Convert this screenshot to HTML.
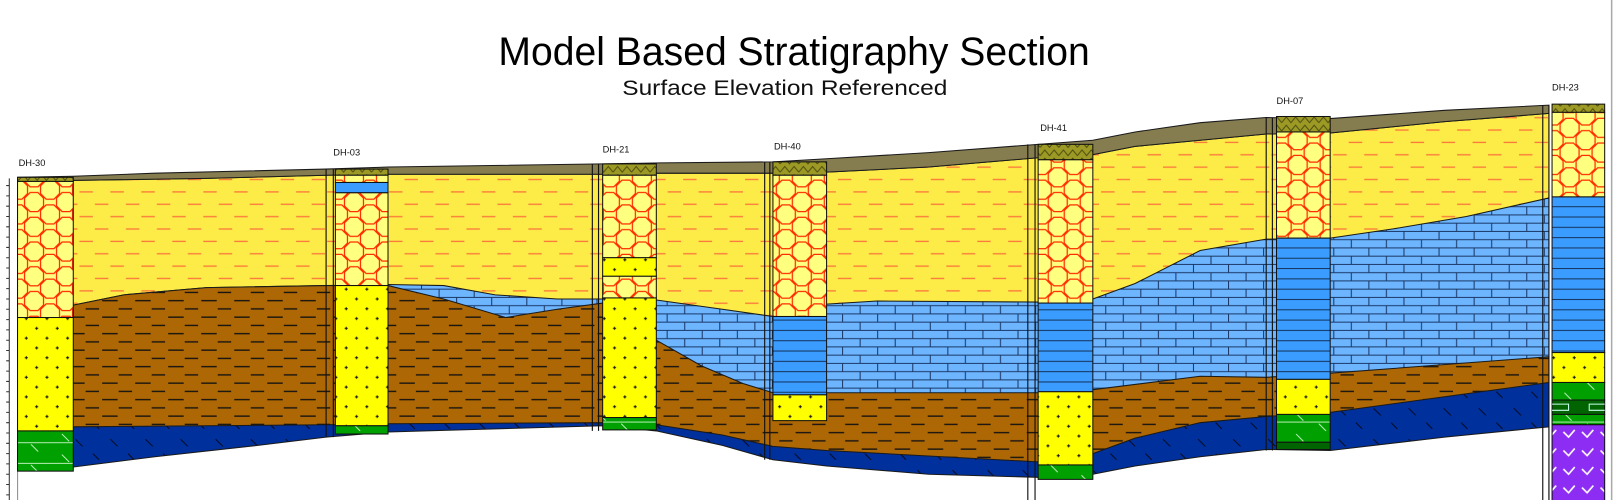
<!DOCTYPE html>
<html><head><meta charset="utf-8"><style>
html,body{margin:0;padding:0;background:#fff;overflow:hidden}
svg{display:block}
</style></head><body>
<svg width="1615" height="500" viewBox="0 0 1565 485" preserveAspectRatio="none" xmlns="http://www.w3.org/2000/svg">
<defs>
<polygon id="og" points="3.8,-9.2 9.2,-3.8 9.2,3.8 3.8,9.2 -3.8,9.2 -9.2,3.8 -9.2,-3.8 -3.8,-9.2"/>
<pattern id="clay" patternUnits="userSpaceOnUse" width="30" height="24">
<rect width="30" height="24" fill="#fdeb47"/>
<rect x="2" y="5.5" width="13" height="1.3" fill="#fb7a3c"/>
<rect x="17" y="17.5" width="13" height="1.3" fill="#fb7a3c"/>
</pattern>
<pattern id="oct" patternUnits="userSpaceOnUse" width="31" height="24" x="2" y="4">
<rect width="31" height="24" fill="#ffff80"/>
<g fill="none" stroke="#ff2a00" stroke-width="1.2">
<use href="#og" x="0" y="0"/><use href="#og" x="31" y="0"/>
<use href="#og" x="0" y="24"/><use href="#og" x="31" y="24"/>
<use href="#og" x="15.5" y="12"/>
</g>
</pattern>
<pattern id="dots" patternUnits="userSpaceOnUse" width="20" height="19">
<rect width="20" height="19" fill="#ffff00"/>
<g fill="#111"><rect x="4" y="4.5" width="3" height="1"/><rect x="5" y="3.5" width="1" height="3"/>
<rect x="14" y="14" width="3" height="1"/><rect x="15" y="13" width="1" height="3"/></g>
</pattern>
<pattern id="brown" patternUnits="userSpaceOnUse" width="32" height="16">
<rect width="32" height="16" fill="#ad6704"/>
<rect x="3" y="3" width="15" height="1.3" fill="#111"/>
<rect x="19" y="11" width="13" height="1.3" fill="#111"/>
</pattern>
<pattern id="dblue" patternUnits="userSpaceOnUse" width="34" height="30">
<rect width="34" height="30" fill="#00309c"/>
<path d="M5 6 L12 13 M22 20 L28 26" stroke="#0a0a20" stroke-width="1"/>
</pattern>
<pattern id="brick" patternUnits="userSpaceOnUse" width="34" height="16">
<rect width="34" height="16" fill="#6db6ff"/>
<path d="M0 0.5 H34 M0 8.5 H34 M0.5 0 V8 M17.5 8 V16" stroke="#1a3766" stroke-width="1" fill="none"/>
</pattern>
<pattern id="blay" patternUnits="userSpaceOnUse" width="20" height="10">
<rect width="20" height="10" fill="#3a9cff"/>
<rect y="0" width="20" height="1" fill="#15355f"/>
</pattern>
<pattern id="green" patternUnits="userSpaceOnUse" width="52" height="20">
<rect width="52" height="20" fill="#00a000"/>
<rect y="9" width="52" height="0.8" fill="#e0ffe0"/>
<path d="M8 1 L15 8 M30 11 L37 18" stroke="#e0ffe0" stroke-width="0.8"/>
</pattern>
<pattern id="purple" patternUnits="userSpaceOnUse" width="18" height="18">
<rect width="18" height="18" fill="#8d2cf2"/>
<path d="M3 5 L8 10 L14 3" stroke="#fff" stroke-width="1.6" fill="none"/>
</pattern>
<pattern id="olive" patternUnits="userSpaceOnUse" width="18" height="8">
<rect width="18" height="8" fill="#9c9a24"/>
<path d="M0 7 L4.5 1.5 L9 7 L13.5 1.5 L18 7" stroke="#4e4c10" stroke-width="1" fill="none"/>
</pattern>
</defs>

<text x="483" y="63" font-family="Liberation Sans, Arial, sans-serif" font-size="39" textLength="573" lengthAdjust="spacingAndGlyphs" fill="#000">Model Based Stratigraphy Section</text>
<text x="603" y="92" font-family="Liberation Sans, Arial, sans-serif" font-size="21" textLength="315" lengthAdjust="spacingAndGlyphs" fill="#111">Surface Elevation Referenced</text>

<g stroke="#1a1a1a" stroke-width="1">
<polygon fill="url(#clay)" points="17,176 71,175 200,173 316,170 376,169 584,169 640,168 749,168 801,167 900,162 1006,153 1059,150 1100,142 1163,136 1227,130 1289,129 1400,118 1501,110 1501,485 17,485"/>
<polygon fill="url(#brick)" points="17,296 71,296 120,286 200,279 316,277 376,276 430,277 480,286 540,290 584,290 636,291 700,300 749,307 801,295 850,292 1006,293 1059,290 1100,275 1163,243 1227,232 1289,231 1350,222 1421,210 1501,192 1501,485 17,485"/>
<polygon fill="url(#brown)" points="17,296 71,296 120,286 200,279 316,277 376,277 430,290 490,308 540,300 584,294 636,330 680,355 720,372 749,381 801,381 1006,381 1059,378 1163,365 1227,366 1289,362 1501,346 1501,485 17,485"/>
<polygon fill="url(#dblue)" points="17,414 71,414 200,413 316,412 376,411 584,410 636,412 700,422 749,433 801,437 1006,448 1059,440 1100,425 1163,410 1227,404 1289,400 1501,371 1501,485 17,485"/>
<polygon fill="#fff" stroke="#1a1a1a" points="17,453 71,453 150,443 250,432 316,424 376,419 584,413 636,418 700,432 749,446 801,452 900,460 1006,463 1059,460 1100,452 1163,443 1227,436 1289,437 1400,424 1501,414 1501,486 17,486"/>
<polygon fill="#857c50" points="17,172 71,171 150,168 316,164 376,162 584,159 640,158 749,157 801,154 900,148 1006,140 1059,136 1100,128 1163,119 1227,114 1289,115 1400,107 1501,102 1501,110 1400,118 1289,129 1227,130 1163,136 1100,142 1059,150 1006,153 900,162 801,167 749,168 640,168 584,169 376,169 316,170 200,173 71,175 17,176"/>
</g>
<rect x="0" y="447" width="17" height="40" fill="#fff"/>

<g stroke="#111" stroke-width="1.1" fill="none">
<path d="M316 164 V424 M323 164 V424"/>
<path d="M574 159 V418 M580 159 V418"/>
<path d="M741 157 V446 M746 157 V446"/>
<path d="M996 140 V485 M1003 140 V485"/>
<path d="M1227 114 V437 M1233 114 V437"/>
<path d="M1495 102 V485 M1501 102 V485"/>
</g>

<g stroke="#333" stroke-width="1">
<path d="M9 173 V485"/>
<path d="M6 180 H9 M6 190 H9 M6 200 H9 M6 210 H9 M6 220 H9 M6 230 H9 M6 240 H9 M6 250 H9 M6 260 H9 M6 270 H9 M6 280 H9 M6 290 H9 M6 300 H9 M6 310 H9 M6 320 H9 M6 330 H9 M6 340 H9 M6 350 H9 M6 360 H9 M6 370 H9 M6 380 H9 M6 390 H9 M6 400 H9 M6 410 H9 M6 420 H9 M6 430 H9 M6 440 H9 M6 450 H9 M6 460 H9 M6 470 H9 M6 480 H9"/>
</g>

<g stroke="#111" stroke-width="1">
<rect x="17" y="172" width="54" height="4" fill="url(#olive)"/>
<rect x="17" y="176" width="54" height="132" fill="url(#oct)"/>
<rect x="17" y="308" width="54" height="110" fill="url(#dots)"/>
<rect x="17" y="418" width="54" height="39" fill="url(#green)"/>

<rect x="325" y="164" width="51" height="6" fill="url(#olive)"/>
<rect x="325" y="170" width="51" height="7" fill="url(#oct)"/>
<rect x="325" y="177" width="51" height="10" fill="#3a9cff"/>
<rect x="325" y="187" width="51" height="90" fill="url(#oct)"/>
<rect x="325" y="277" width="51" height="136" fill="url(#dots)"/>
<rect x="325" y="413" width="51" height="8" fill="url(#green)"/>

<rect x="584" y="159" width="52" height="11" fill="url(#olive)"/>
<rect x="584" y="170" width="52" height="80" fill="url(#oct)"/>
<rect x="584" y="250" width="52" height="18" fill="url(#dots)"/>
<rect x="584" y="268" width="52" height="21" fill="url(#oct)"/>
<rect x="584" y="289" width="52" height="116" fill="url(#dots)"/>
<rect x="584" y="405" width="52" height="12" fill="url(#green)"/>

<rect x="749" y="157" width="52" height="13" fill="url(#olive)"/>
<rect x="749" y="170" width="52" height="137" fill="url(#oct)"/>
<rect x="749" y="307" width="52" height="76" fill="url(#blay)"/>
<rect x="749" y="383" width="52" height="25" fill="url(#dots)"/>

<rect x="1006" y="140" width="53" height="15" fill="url(#olive)"/>
<rect x="1006" y="155" width="53" height="139" fill="url(#oct)"/>
<rect x="1006" y="294" width="53" height="86" fill="url(#blay)"/>
<rect x="1006" y="380" width="53" height="71" fill="url(#dots)"/>
<rect x="1006" y="451" width="53" height="14" fill="url(#green)"/>

<rect x="1237" y="113" width="52" height="15" fill="url(#olive)"/>
<rect x="1237" y="128" width="52" height="103" fill="url(#oct)"/>
<rect x="1237" y="231" width="52" height="137" fill="url(#blay)"/>
<rect x="1237" y="368" width="52" height="34" fill="url(#dots)"/>
<rect x="1237" y="402" width="52" height="27" fill="url(#green)"/>
<rect x="1237" y="429" width="52" height="7" fill="#006400"/>

<rect x="1504" y="101" width="51" height="8" fill="url(#olive)"/>
<rect x="1504" y="109" width="51" height="82" fill="url(#oct)"/>
<rect x="1504" y="191" width="51" height="151" fill="url(#blay)"/>
<rect x="1504" y="342" width="51" height="29" fill="url(#dots)"/>
<rect x="1504" y="371" width="51" height="17" fill="url(#green)"/>
<rect x="1504" y="388" width="51" height="14" fill="#006400"/>
<rect x="1504" y="402" width="51" height="10" fill="url(#green)"/>
<rect x="1504" y="412" width="51" height="75" fill="url(#purple)"/>
</g>
<g stroke="#cfe" stroke-width="1" fill="none">
<path d="M1504 392 H1520 V398 H1504 M1555 392 H1540 V398 H1555"/>
</g>

<g font-family="Liberation Sans, Arial, sans-serif" font-size="9" fill="#111">
<text x="18" y="161">DH-30</text>
<text x="323" y="151">DH-03</text>
<text x="584" y="148">DH-21</text>
<text x="750" y="145">DH-40</text>
<text x="1008" y="127">DH-41</text>
<text x="1237" y="101">DH-07</text>
<text x="1504" y="88">DH-23</text>
</g>
<rect x="1561" y="0" width="1.5" height="485" fill="#aaa"/>
</svg>
</body></html>
